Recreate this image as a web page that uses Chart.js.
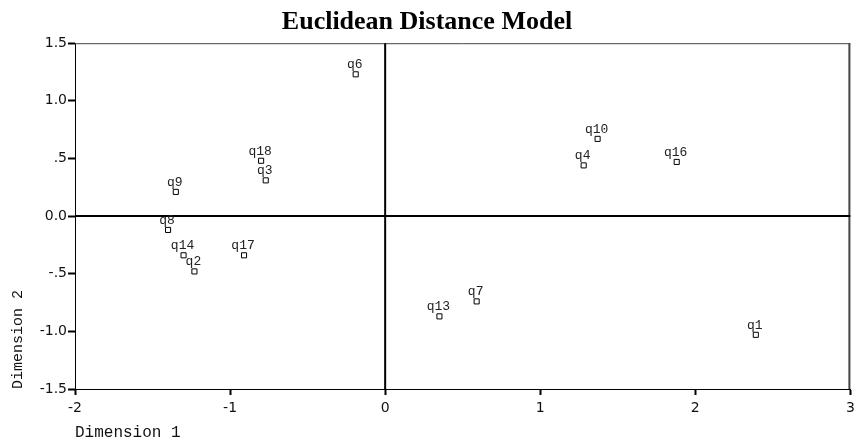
<!DOCTYPE html>
<html>
<head>
<meta charset="utf-8">
<script src="https://cdn.jsdelivr.net/npm/chart.js@4/dist/chart.umd.min.js"></script>
<style>
html,body{margin:0;padding:0;background:#fff;}
#wrap{width:855px;height:446px;}
</style>
</head>
<body>
<div id="wrap"><canvas id="c" width="855" height="446"></canvas></div>
<script>
const chartTitle = 'Euclidean Distance Model';
const pointLabels = ['q1','q2','q3','q4','q6','q7','q8','q9','q10','q13','q14','q16','q17','q18'];
const dim1 = [2.39,-1.23,-0.77,1.28,-0.19,0.59,-1.40,-1.35,1.37,0.35,-1.30,1.88,-0.91,-0.80];
const dim2 = [-1.03,-0.48,0.31,0.44,1.23,-0.74,-0.12,0.21,0.67,-0.87,-0.34,0.47,-0.34,0.48];
const xTicks = [-2,-1,0,1,2,3];
const xTickLabels = ['-2','-1','0','1','2','3'];
const yTicks = [-1.5,-1.0,-0.5,0,0.5,1.0,1.5];
const yTickLabels = ['-1.5','-1.0','-.5','0.0','.5','1.0','1.5'];
const xTitle = 'Dimension 1';
const yTitle = 'Dimension 2';

const points = dim1.map((x,i)=>({x:x,y:dim2[i]}));

const overlay = {
  id:'overlay',
  beforeDatasetsDraw(chart){
    const {ctx, chartArea:a, scales} = chart;
    ctx.save();
    ctx.strokeStyle = '#444';
    ctx.lineWidth = 1;
    ctx.beginPath();
    ctx.moveTo(a.left, a.top+0.5); ctx.lineTo(a.right, a.top+0.5);
    ctx.stroke();
    ctx.lineWidth = 2;
    ctx.beginPath();
    ctx.moveTo(a.right-1, a.top); ctx.lineTo(a.right-1, a.bottom);
    ctx.stroke();
    ctx.strokeStyle = '#000';
    ctx.lineWidth = 2;
    const x0 = scales.x.getPixelForValue(0);
    const y0 = scales.y.getPixelForValue(0);
    ctx.beginPath();
    ctx.moveTo(x0, a.top); ctx.lineTo(x0, a.bottom);
    ctx.moveTo(a.left, y0); ctx.lineTo(a.right, y0);
    ctx.stroke();
    ctx.restore();
  },
  afterDatasetsDraw(chart){
    const {ctx} = chart;
    const meta = chart.getDatasetMeta(0);
    ctx.save();
    ctx.font = '13px "Liberation Mono", monospace';
    ctx.fillStyle = '#222';
    ctx.textAlign = 'center';
    ctx.textBaseline = 'alphabetic';
    meta.data.forEach((el,i)=>{
      ctx.fillText(pointLabels[i], el.x-1, el.y-6);
    });
    ctx.restore();
  }
};

new Chart(document.getElementById('c'), {
  type:'scatter',
  data:{
    datasets:[{
      data:points,
      pointStyle:'rect',
      pointRadius:3.6,
      pointHoverRadius:3.6,
      pointBorderWidth:1,
      pointBorderColor:'#000',
      pointBackgroundColor:'#fff'
    }]
  },
  options:{
    responsive:false,
    animation:false,
    events:[],
    layout:{padding:{left:0,right:1,top:0,bottom:0}},
    plugins:{
      legend:{display:false},
      tooltip:{enabled:false},
      title:{
        display:true,
        text:chartTitle,
        color:'#000',
        font:{family:'"Liberation Serif", "Times New Roman", serif', size:26, weight:'bold'},
        padding:{top:7,bottom:5}
      }
    },
    scales:{
      x:{
        type:'linear',
        min:-2, max:3,
        afterBuildTicks(scale){ scale.ticks = xTicks.map(v=>({value:v})); },
        afterFit(scale){ scale.height = 57; scale.paddingRight = 0; scale.paddingLeft = 0; },
        ticks:{
          callback(v){ const i = xTicks.indexOf(v); return i>=0 ? xTickLabels[i] : ''; },
          color:'#111',
          font:{family:'"DejaVu Sans", sans-serif', size:14},
          padding:5,
          maxRotation:0,
          autoSkip:false
        },
        grid:{drawOnChartArea:false, drawTicks:true, tickLength:6, tickWidth:2, tickColor:'#000'},
        border:{display:true, color:'#000', width:1},
        title:{
          display:true, text:xTitle, align:'start', color:'#111',
          font:{family:'"Liberation Mono", monospace', size:16},
          padding:{top:0,bottom:4}
        }
      },
      y:{
        type:'linear',
        min:-1.5, max:1.5,
        afterBuildTicks(scale){ scale.ticks = yTicks.map(v=>({value:v})); },
        afterFit(scale){ scale.width = 75; },
        ticks:{
          callback(v){ const i = yTicks.findIndex(t=>Math.abs(t-v)<1e-9); return i>=0 ? yTickLabels[i] : ''; },
          color:'#111',
          font:{family:'"DejaVu Sans", sans-serif', size:14},
          padding:1,
          autoSkip:false
        },
        grid:{drawOnChartArea:false, drawTicks:true, tickLength:7, tickWidth:2, tickColor:'#000'},
        border:{display:true, color:'#000', width:1},
        title:{
          display:true, text:yTitle, align:'start', color:'#111',
          font:{family:'"Liberation Mono", monospace', size:15},
          padding:{top:9,bottom:0}
        }
      }
    }
  },
  plugins:[overlay]
});
</script>
</body>
</html>
